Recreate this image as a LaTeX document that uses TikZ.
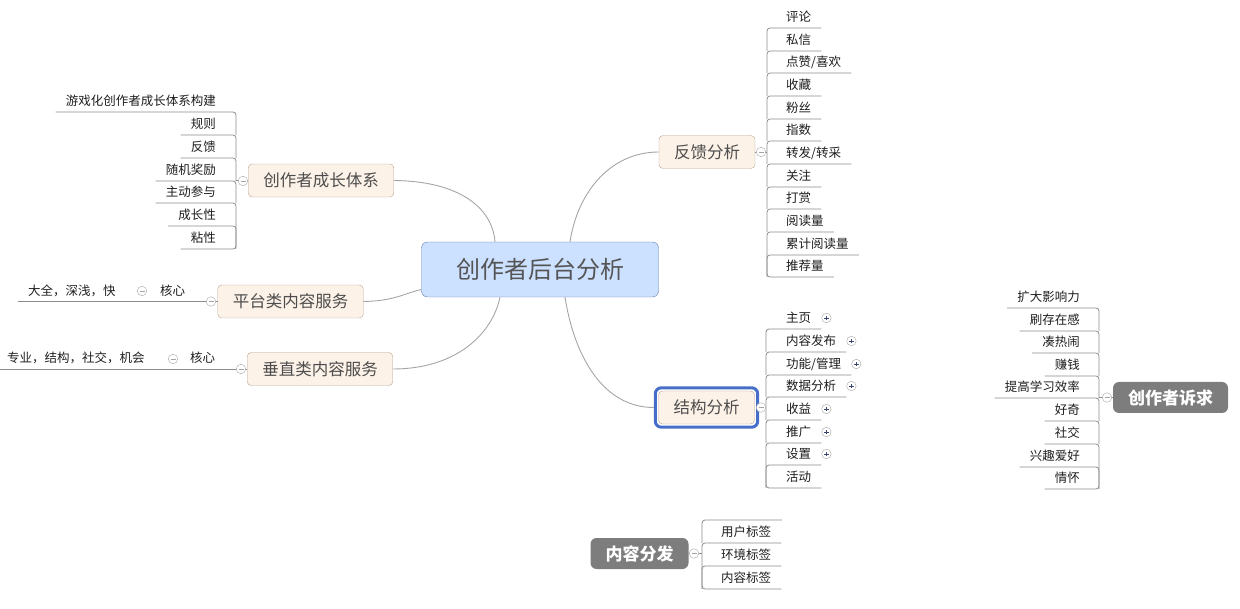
\documentclass[tikz,border=0pt]{standalone}
\usepackage{fontspec}
\setmainfont{Noto Sans CJK SC}
\usepackage{tikz}
\usetikzlibrary{
  positioning,
  fit
}
\definecolor{RootFill}{RGB}{204, 224, 255}
\definecolor{RootLine}{RGB}{100, 125, 175}
\definecolor{RootText}{RGB}{85, 85, 85}
\definecolor{TopicFill}{RGB}{253, 242, 232}
\definecolor{TopicLine}{RGB}{180, 165, 150}
\definecolor{TopicText}{RGB}{77, 77, 77}
\definecolor{FloatFill}{RGB}{125, 125, 125}
\definecolor{CurveGray}{RGB}{165, 165, 165}
\definecolor{LeafLine}{RGB}{140, 140, 140}
\definecolor{LeafText}{RGB}{30, 30, 30}
\definecolor{SelectBlue}{RGB}{70, 110, 200}
\definecolor{IconNavy}{RGB}{60, 70, 110}
\tikzset{
    rootbox/.style={rectangle, draw=RootLine, fill=RootFill, rounded corners=6pt,
        minimum width=237pt, minimum height=55pt, text=RootText,
        font=\fontsize{24}{26}\selectfont},
    topic/.style={rectangle, draw=TopicLine, fill=TopicFill, rounded corners=4pt,
        minimum height=33pt, inner xsep=15pt, text=TopicText,
        font=\fontsize{16.5}{18}\selectfont},
    floating/.style={rectangle, fill=FloatFill, rounded corners=6pt,
        minimum height=31pt, inner xsep=15pt, text=white,
        font=\fontsize{17}{19}\selectfont\bfseries},
    leaf/.style={inner xsep=10pt, inner ysep=0pt, text height=12pt, text depth=6pt,
        text=LeafText, font=\fontsize{12.5}{14}\selectfont},
    branch/.style={draw=LeafLine, line width=0.8pt, rounded corners=3pt},
    curve/.style={draw=CurveGray, line width=0.9pt},
    fold/.style={circle, draw=CurveGray, fill=white, minimum size=9.5pt, inner sep=0pt,
        path picture={\draw[CurveGray, line width=0.7pt]
            ([xshift=-2.5pt]path picture bounding box.center) --
            ([xshift=2.5pt]path picture bounding box.center);}},
    unfold/.style={circle, draw=CurveGray, fill=white, minimum size=9.5pt, inner sep=0pt,
        path picture={\draw[IconNavy, line width=0.7pt]
            ([xshift=-2.3pt]path picture bounding box.center) --
            ([xshift=2.3pt]path picture bounding box.center)
            ([yshift=-2.3pt]path picture bounding box.center) --
            ([yshift=2.3pt]path picture bounding box.center);}},
    selbox/.style={draw=SelectBlue, line width=3pt, rounded corners=6pt, inner sep=3pt}
}

\begin{document}
\begin{tikzpicture}[x=1pt, y=-1pt]
    \useasboundingbox (0,0) rectangle (1240,609);

    % main topics
    \node[rootbox] (root) at (540,269.5) {创作者后台分析};
    \node[topic] (growth) at (321,180.5) {创作者成长体系};
    \node[topic] (platform) at (290.5,301.5) {平台类内容服务};
    \node[topic] (vertical) at (320,369) {垂直类内容服务};
    \node[topic] (feedback) at (707,152) {反馈分析};
    \node[topic] (struct) at (706.5,407.5) {结构分析};
    \node[selbox, fit=(struct)] (structsel) {};
    \node[floating] (desire) at (1170.5,397.5) {创作者诉求};
    \node[floating] (distrib) at (639.5,553.5) {内容分发};

    \draw[curve] (growth.east) .. controls (455,181) and (492,205) .. ([xshift=-45pt]root.north);
    \draw[curve] (platform.east) .. controls (395,301) and (405,293) .. ([yshift=-20pt]root.west);
    \draw[curve] (vertical.east) .. controls (455,369) and (492,335) .. ([xshift=-40pt]root.south);
    \draw[curve] (feedback.west) .. controls (612,152) and (578,190) .. ([xshift=30pt]root.north);
    \draw[curve] ([xshift=25pt]root.south) .. controls (575,360) and (605,407.5) .. (structsel.west);

    % spines
    \coordinate (gspine) at (236,0);
    \coordinate (fbspine) at (767,0);
    \coordinate (stspine) at (766,0);
    \coordinate (despine) at (1099,0);
    \coordinate (dispine) at (702,0);
    \coordinate (ditop) at (782,520);

    % creator growth
    \foreach \yu/\txt [count=\i] in {112/游戏化创作者成长体系构建, 135/规则, 158/反馈,
        181/随机奖励, 203/主动参与, 226/成长性, 249/粘性}
        \node[leaf, anchor=south east] (g\i) at (226,\yu) {\txt};
    \foreach \i in {1,...,6} {
        \pgfmathtruncatemacro\j{\i+1}
        \draw[branch] (g\i.south west) -| (gspine |- g\j.south);
    }
    \draw[branch] (gspine |- g6.south) |- (g7.south west);
    \draw[branch] (growth.west) -- (gspine |- growth.west);

    % platform services
    \node[leaf, anchor=south west] (pcore) at (150,301.5) {核心};
    \node[leaf, anchor=south west] (pleaf) at (18,301.5) {大全，深浅，快};
    % vertical services
    \node[leaf, anchor=south west] (vcore) at (180,369) {核心};
    \node[leaf, anchor=south west] (vleaf) at (-3,369) {专业，结构，社交，机会};
    \draw[branch] (pleaf.south west) -- (platform.west);
    \draw[branch] (vleaf.south west) -- (vertical.west);

    % feedback
    \foreach \yu/\txt [count=\i] in {28/评论, 51/私信, 73/{点赞/喜欢}, 96/收藏, 119/粉丝,
        141/指数, 164/{转发/转采}, 187/关注, 209/打赏, 232/阅读量, 255/累计阅读量, 277/推荐量}
        \node[leaf, anchor=south west] (fb\i) at (776,\yu) {\txt};
    \foreach \i in {1,...,11} {
        \pgfmathtruncatemacro\j{\i+1}
        \draw[branch] (fb\i.south east) -| (fbspine |- fb\j.south);
    }
    \draw[branch] (fbspine |- fb11.south) |- (fb12.south east);
    \draw[branch] (feedback.east) -- (fbspine |- feedback.east);

    % structure
    \foreach \yu/\txt [count=\i] in {329/主页, 352/内容发布, 375/{功能/管理}, 397/数据分析,
        420/收益, 443/推广, 465/设置, 488/活动}
        \node[leaf, anchor=south west] (st\i) at (776,\yu) {\txt};
    \foreach \i in {1,...,7} {
        \pgfmathtruncatemacro\j{\i+1}
        \draw[branch] (st\i.south east) -| (stspine |- st\j.south);
        \node[unfold] (stplus\i) at ([xshift=5pt, yshift=11pt]st\i.south east) {};
    }
    \draw[branch] (stspine |- st7.south) |- (st8.south east);
    \draw[branch] (structsel.east) -- (stspine |- structsel.east);

    % creator demands
    \foreach \yu/\txt [count=\i] in {308/扩大影响力, 331/刷存在感, 353/凑热闹, 376/赚钱,
        398/提高学习效率, 421/好奇, 444/社交, 467/兴趣爱好, 489/情怀}
        \node[leaf, anchor=south east] (de\i) at (1090,\yu) {\txt};
    \foreach \i in {1,...,8} {
        \pgfmathtruncatemacro\j{\i+1}
        \draw[branch] (de\i.south west) -| (despine |- de\j.south);
    }
    \draw[branch] (despine |- de8.south) |- (de9.south west);
    \draw[branch] (desire.west) -- (despine |- desire.west);

    % content distribution
    \foreach \yu/\txt [count=\i] in {543/用户标签, 566/环境标签, 589/内容标签}
        \node[leaf, anchor=south west] (di\i) at (711,\yu) {\txt};
    \draw[branch] (ditop) -| (dispine |- di1.south);
    \foreach \i in {1,2} {
        \pgfmathtruncatemacro\j{\i+1}
        \draw[branch] (di\i.south east) -| (dispine |- di\j.south);
    }
    \draw[branch] (dispine |- di2.south) |- (di3.south east);
    \draw[branch] (distrib.east) -- (dispine |- distrib.east);

    % fold buttons
    \node[fold] (growthfold) at (243,181) {};
    \node[fold] (platformfold) at (211,301.5) {};
    \node[fold] (pcorefold) at (142,291) {};
    \node[fold] (verticalfold) at (241,369) {};
    \node[fold] (vcorefold) at (173,359) {};
    \node[fold] (feedbackfold) at (761,152) {};
    \node[fold] (structfold) at (761,407.5) {};
    \node[fold] (desirefold) at (1107,397.5) {};
    \node[fold] (distribfold) at (694,553.5) {};
\end{tikzpicture}
\end{document}
